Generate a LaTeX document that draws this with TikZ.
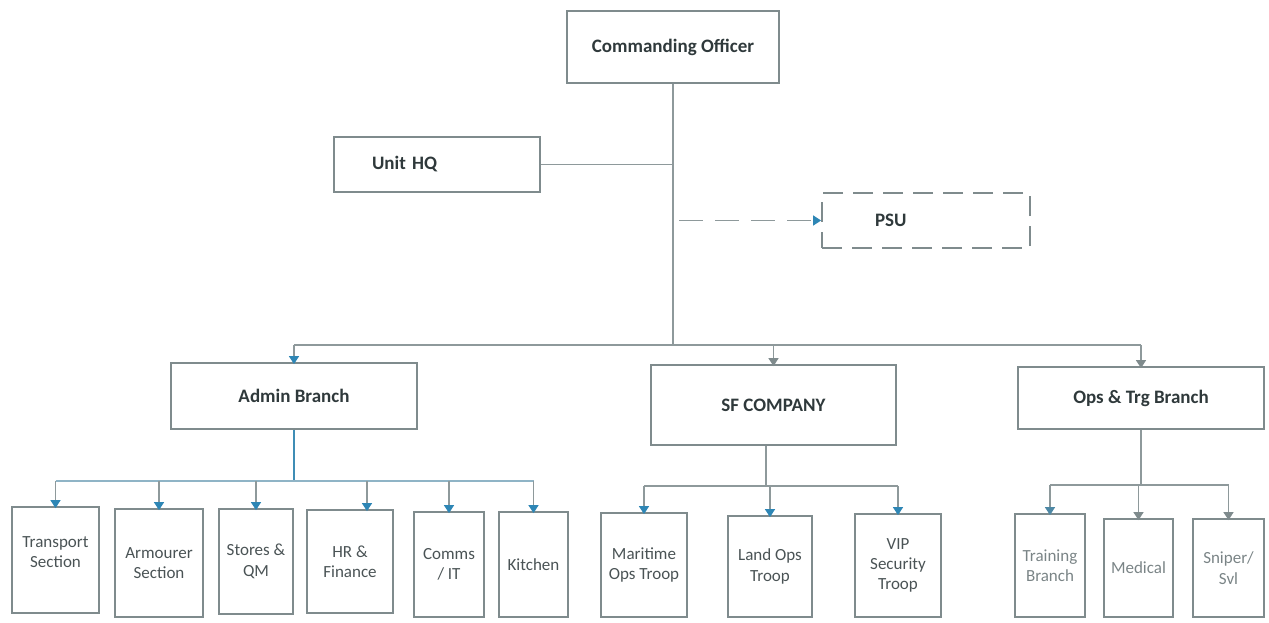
\documentclass[tikz,border=0pt]{standalone}
\usepackage{fontspec}
\setmainfont{Carlito}
\usetikzlibrary{arrows.meta}
\definecolor{boxgray}{HTML}{7F8B8D}
\definecolor{linegray}{HTML}{8E999B}
\definecolor{lineblue}{HTML}{3F8DB5}
\definecolor{lightblue}{HTML}{8FB4C6}
\definecolor{headblue}{HTML}{2E86B5}
\definecolor{headgray}{HTML}{7F8B8D}
\definecolor{txtdark}{HTML}{2F393B}
\definecolor{txtmid}{HTML}{4A5355}
\definecolor{txtlight}{HTML}{7A8486}
\begin{document}
\begin{tikzpicture}[x=0.5pt,y=-0.5pt,
  box/.style={draw=boxgray,line width=0.9pt,rectangle,inner sep=0pt,align=center},
  topbox/.style={box,font=\bfseries\fontsize{9.5}{11}\selectfont,text=txtdark},
  subbox/.style={box,font=\fontsize{8.5}{10.2}\selectfont,text=txtmid},
  lightbox/.style={subbox,text=txtlight},
  conn/.style={draw=linegray,line width=0.75pt},
  bconn/.style={draw=lineblue,line width=0.8pt},
  lbconn/.style={draw=lightblue,line width=0.75pt},
  barrow/.style={conn,-{Triangle[width=5pt,length=4pt,color=headblue]}},
  garrow/.style={conn,-{Triangle[width=5pt,length=4pt,color=headgray]}},
  gbarrow/.style={conn,-{Triangle[width=5pt,length=4pt,color=headblue!60!headgray]}}]
\useasboundingbox (0,0) rectangle (1269,622);

% top level
\node[topbox,minimum width=106pt,minimum height=36pt] (co) at (673,47) {Commanding Officer};
\node[topbox,minimum width=103pt,minimum height=27.5pt,inner xsep=19pt,text width=65pt,align=left] (uhq) at (437,164.5) {Unit HQ};
\node[topbox,draw=boxgray,dash pattern=on 10pt off 5pt,minimum width=104pt,minimum height=27.5pt,inner xsep=26.5pt,text width=51pt,align=left] (psu) at (926,220.5) {PSU};
% branches
\node[topbox,minimum width=123pt,minimum height=33pt] (admin) at (294,396) {Admin Branch};
\node[topbox,minimum width=122.5pt,minimum height=40pt] (sf) at (773.5,405) {SF COMPANY};
\node[topbox,minimum width=123pt,minimum height=31pt] (ops) at (1141,398) {Ops \& Trg Branch};

% admin children
\node[subbox,minimum width=43.5pt,minimum height=53pt] (tr) at (55.5,560) {Transport\\Section\\[-2pt]};
\node[subbox,minimum width=44pt,minimum height=54pt] (ar) at (159,563) {Armourer\\Section};
\node[subbox,minimum width=37pt,minimum height=52.5pt] (st) at (256,561.5) {Stores \&\\QM};
\node[subbox,minimum width=43pt,minimum height=51.5pt] (hr) at (350,561.5) {HR \&\\Finance};
\node[subbox,minimum width=35pt,minimum height=52.5pt] (cm) at (449,564.5) {Comms\\/ IT};
\node[subbox,minimum width=34.5pt,minimum height=52.5pt] (kt) at (533.5,564.5) {Kitchen};
% SF children
\node[subbox,minimum width=43pt,minimum height=52pt] (mr) at (644,565) {Maritime\\Ops Troop};
\node[subbox,minimum width=42pt,minimum height=50.5pt] (ld) at (770,566.5) {Land Ops\\Troop};
\node[subbox,minimum width=43pt,minimum height=51.5pt] (vp) at (898,565.5) {VIP\\Security\\Troop};
% Ops children
\node[lightbox,minimum width=35pt,minimum height=51.5pt] (tg) at (1050,565.5) {Training\\Branch};
\node[lightbox,minimum width=34.5pt,minimum height=49pt] (md) at (1138.5,568) {Medical};
\node[lightbox,minimum width=35.5pt,minimum height=49pt] (sn) at (1228.5,568) {Sniper/\\Svl};

% coordinates
\coordinate (bus) at (673,345);
\coordinate (psufrom) at (679,220.5);
\coordinate (abus) at (294,481);
\coordinate (hrtop) at ([xshift=8.5pt]hr.north);
\coordinate (sfout) at ([xshift=-3.75pt]sf.south);
\coordinate (sfbus) at (766,486);
\coordinate (obus) at (1141,485);

% top connectors
\draw[conn] (co.south) -- (bus);
\draw[conn] (uhq.east) -- (uhq.east -| co.south);
\draw[conn,dash pattern=on 12pt off 6pt,-{Triangle[width=5pt,length=4pt,color=headblue]}] (psufrom) -- (psu.west);
\draw[conn] (admin.north |- bus) -- (ops.north |- bus);
\draw[barrow] (admin.north |- bus) -- ([yshift=-1pt]admin.north);
\draw[garrow] (sf.north |- bus) -- ([yshift=-1pt]sf.north);
\draw[garrow] (ops.north |- bus) -- ([yshift=-1pt]ops.north);

% admin connectors
\draw[bconn] (admin.south) -- (abus);
\draw[lbconn] (tr.north |- abus) -- (kt.north |- abus);
\draw[barrow] (tr.north |- abus) -- ([yshift=-1pt]tr.north);
\draw[barrow] (ar.north |- abus) -- ([yshift=-1pt]ar.north);
\draw[barrow] (st.north |- abus) -- ([yshift=-1pt]st.north);
\draw[barrow] (hrtop |- abus) -- ([yshift=-1pt]hrtop);
\draw[barrow] (cm.north |- abus) -- ([yshift=-1pt]cm.north);
\draw[barrow] (kt.north |- abus) -- ([yshift=-1pt]kt.north);

% SF connectors
\draw[conn] (sfout) -- (sfout |- sfbus);
\draw[conn] (mr.north |- sfbus) -- (vp.north |- sfbus);
\draw[barrow] (mr.north |- sfbus) -- ([yshift=-1pt]mr.north);
\draw[barrow] (ld.north |- sfbus) -- ([yshift=-1pt]ld.north);
\draw[barrow] (vp.north |- sfbus) -- ([yshift=-1pt]vp.north);

% Ops connectors
\draw[conn] (ops.south) -- (obus);
\draw[conn] (tg.north |- obus) -- (sn.north |- obus);
\draw[gbarrow] (tg.north |- obus) -- ([yshift=-1pt]tg.north);
\draw[garrow] (md.north |- obus) -- ([yshift=-1pt]md.north);
\draw[garrow] (sn.north |- obus) -- ([yshift=-1pt]sn.north);
\end{tikzpicture}
\end{document}
